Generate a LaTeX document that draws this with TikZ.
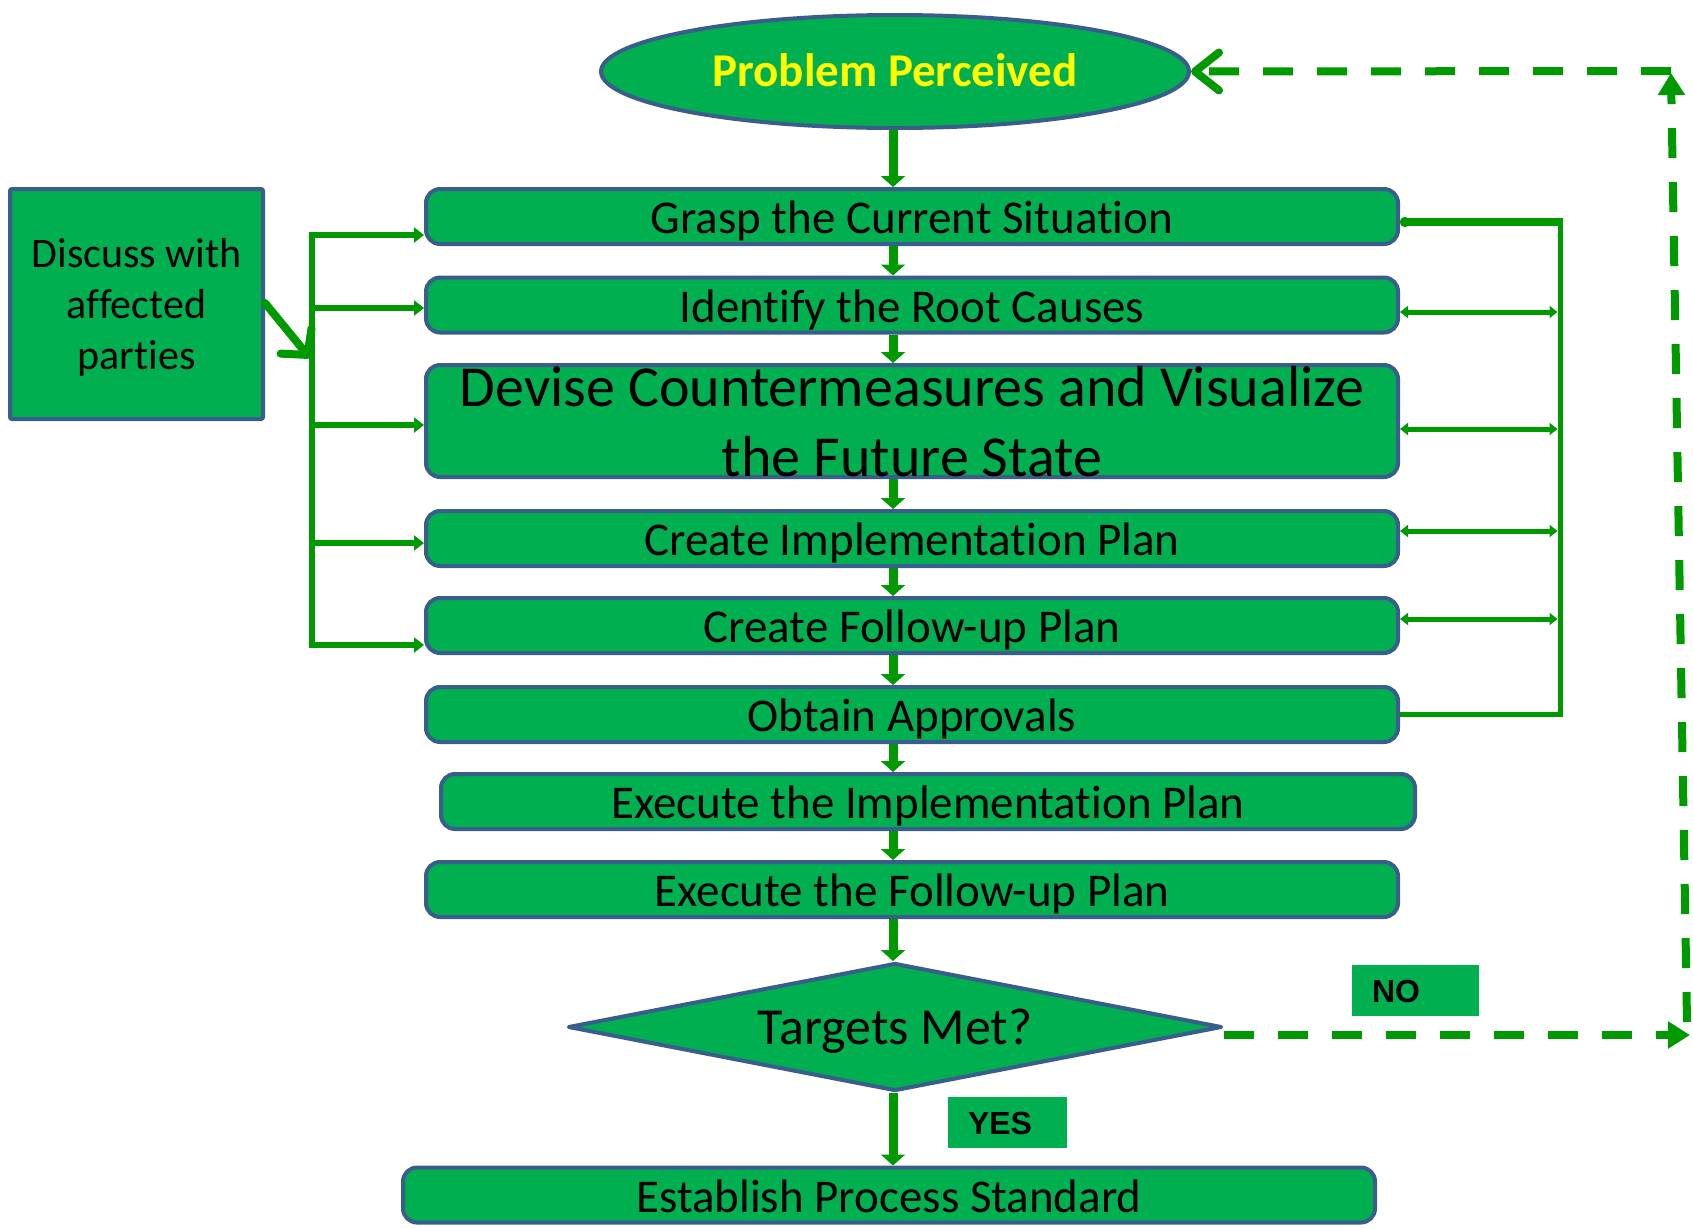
\documentclass[tikz,border=0pt]{standalone}
\usepackage{fontspec}
\setmainfont{Carlito}[Ligatures={NoCommon}]
\newfontfamily\arialfont{Liberation Sans}
\usetikzlibrary{shapes.geometric,arrows.meta}
\newcommand{\nolig}{\kern0pt }
\definecolor{boxg}{HTML}{00AF50}
\definecolor{bord}{HTML}{3A5E8C}
\definecolor{arrg}{HTML}{009900}
\definecolor{ptext}{HTML}{FFFF00}
\tikzset{
  box/.style={draw=bord, line width=4pt, fill=boxg, rounded corners=14pt,
    minimum width=972pt, minimum height=55pt, inner sep=0pt,
    font=\fontsize{47}{56}\selectfont},
  oneline/.style={text height=34pt, text depth=0pt},
  ell/.style={ellipse, draw=bord, line width=4pt, fill=boxg,
    minimum width=588pt, minimum height=113pt, inner sep=0pt,
    font=\bfseries\fontsize{47}{56}\selectfont, text=ptext,
    text height=30pt, text depth=0pt},
  dia/.style={diamond, aspect=5, draw=bord, line width=4pt, line join=round,
    fill=boxg, minimum width=654pt, minimum height=128pt, inner sep=0pt,
    font=\fontsize{52}{60}\selectfont, text height=35pt, text depth=0pt},
  disc/.style={draw=bord, line width=4pt, fill=boxg, rounded corners=2pt,
    minimum width=253pt, minimum height=230pt, inner sep=0pt, align=center,
    font=\fontsize{42}{51}\selectfont, text depth=0pt},
  lbl/.style={fill=boxg, inner xsep=20pt, inner ysep=0pt, minimum height=51pt,
    align=left, font=\arialfont\bfseries\fontsize{32}{36}\selectfont,
    text height=23pt, text depth=0pt},
  flow/.style={draw=arrg, line width=9pt, -{Triangle[width=24pt,length=11pt]}},
  lbus/.style={draw=arrg, line width=6pt},
  larr/.style={draw=arrg, line width=6pt, -{Triangle[width=15pt,length=10pt]}},
  darr/.style={draw=arrg, line width=8pt, line cap=round,
    -{Straight Barb[length=18pt,width=40pt,round]}},
  rbus/.style={draw=arrg, line width=5pt},
  rtop/.style={draw=arrg, line width=8pt, -{Circle[length=10pt]}},
  rarr/.style={draw=arrg, line width=5pt,
    {Triangle[width=12pt,length=8pt]}-{Triangle[width=12pt,length=8pt]}},
  dsh/.style={draw=arrg, line width=8pt, dash pattern=on 30pt off 24pt},
}
\begin{document}
\begin{tikzpicture}[x=1pt,y=-1pt]
\useasboundingbox (0,0) rectangle (1693,1227);

% main column
\node[ell] (pp) at (895,71.5) {Problem Perceived};
\node[box, oneline] (grasp) at (912,216.5) {Grasp the Current Situat\nolig ion};
\node[box, oneline] (ident) at (912,305) {Ident\nolig ify the Root Causes};
\node[box, minimum height=112pt, font=\fontsize{58}{70}\selectfont, align=center, text depth=-4pt] (devise) at (912,421) {Devise Countermeasures and Visualize\\the Future State};
\node[box, oneline] (cimpl) at (912,538.5) {Create Implementat\nolig ion Plan};
\node[box, oneline] (cfoll) at (912,625.5) {Create Follow-up Plan};
\node[box, oneline] (obtain) at (912,714.5) {Obtain Approvals};
\node[box, oneline, minimum width=974pt] (eimpl) at (928,801.5) {Execute the Implementat\nolig ion Plan};
\node[box, oneline] (efoll) at (912,889.5) {Execute the Follow-up Plan};
\node[dia] (targets) at (895,1027) {Targets Met?};
\node[box, oneline] (estab) at (889,1195) {Establish Process Standard};

% side boxes and labels
\node[disc] (discuss) at (136.5,304) {Discuss with\\affected\\part\nolig ies};
\node[lbl, text width=87pt] (no) at (1415.5,990.5) {NO};
\node[lbl, text width=79pt] (yes) at (1007.5,1122.5) {YES};

% spine connectors
\coordinate (sp) at (893,0);
\foreach \a/\b in {pp/grasp, grasp/ident, ident/devise, devise/cimpl, cimpl/cfoll, cfoll/obtain, obtain/eimpl, eimpl/efoll, efoll/targets, targets/estab}
  \draw[flow] (\a.south -| sp) -- (\b.north -| sp);

% left bus
\coordinate (lt) at (312,232);
\coordinate (lb) at (312,648);
\draw[lbus] (lt) -- (lb);
\coordinate (L1) at (312,235);
\coordinate (L2) at (312,308);
\coordinate (L3) at (312,425);
\coordinate (L4) at (312,543);
\coordinate (L5) at (312,645);
\draw[larr] (L1) -- (L1 -| grasp.west);
\draw[larr] (L2) -- (L2 -| ident.west);
\draw[larr] (L3) -- (L3 -| devise.west);
\draw[larr] (L4) -- (L4 -| cimpl.west);
\draw[larr] (L5) -- (L5 -| cfoll.west);
\coordinate (ld) at (310,358);
\draw[darr] ([yshift=1pt]discuss.east) -- (ld);

% right bus
\coordinate (rt) at (1560,218);
\coordinate (rb) at (1560,716.5);
\draw[rbus] (rt) -- (rb);
\coordinate (R0) at (1562.5,222);
\draw[rtop] (R0) -- (R0 -| grasp.east);
\coordinate (R1) at (1557.5,312);
\coordinate (R2) at (1557.5,429);
\coordinate (R3) at (1557.5,531);
\coordinate (R4) at (1557.5,619);
\draw[rarr] (R1 -| ident.east) -- (R1);
\draw[rarr] (R2 -| devise.east) -- (R2);
\draw[rarr] (R3 -| cimpl.east) -- (R3);
\draw[rarr] (R4 -| cfoll.east) -- (R4);
\coordinate (R5) at (1562.5,714);
\draw[rbus] (R5) -- (R5 -| obtain.east);

% NO loop (dashed)
\coordinate (nb) at (1690,1035);
\draw[dsh, -{Triangle[length=22pt,width=26pt]}] ([yshift=-8pt]targets.east) -- (nb);
\coordinate (vb) at (1687,1022);
\coordinate (vt) at (1671,73);
\draw[dsh, -{Triangle[length=22pt,width=26pt]}] (vb) -- (vt);
\coordinate (tr) at (1671,71);
\draw[dsh, -{Straight Barb[length=24pt,width=38pt,round]}] (tr) -- (pp.east);
\end{tikzpicture}
\end{document}
